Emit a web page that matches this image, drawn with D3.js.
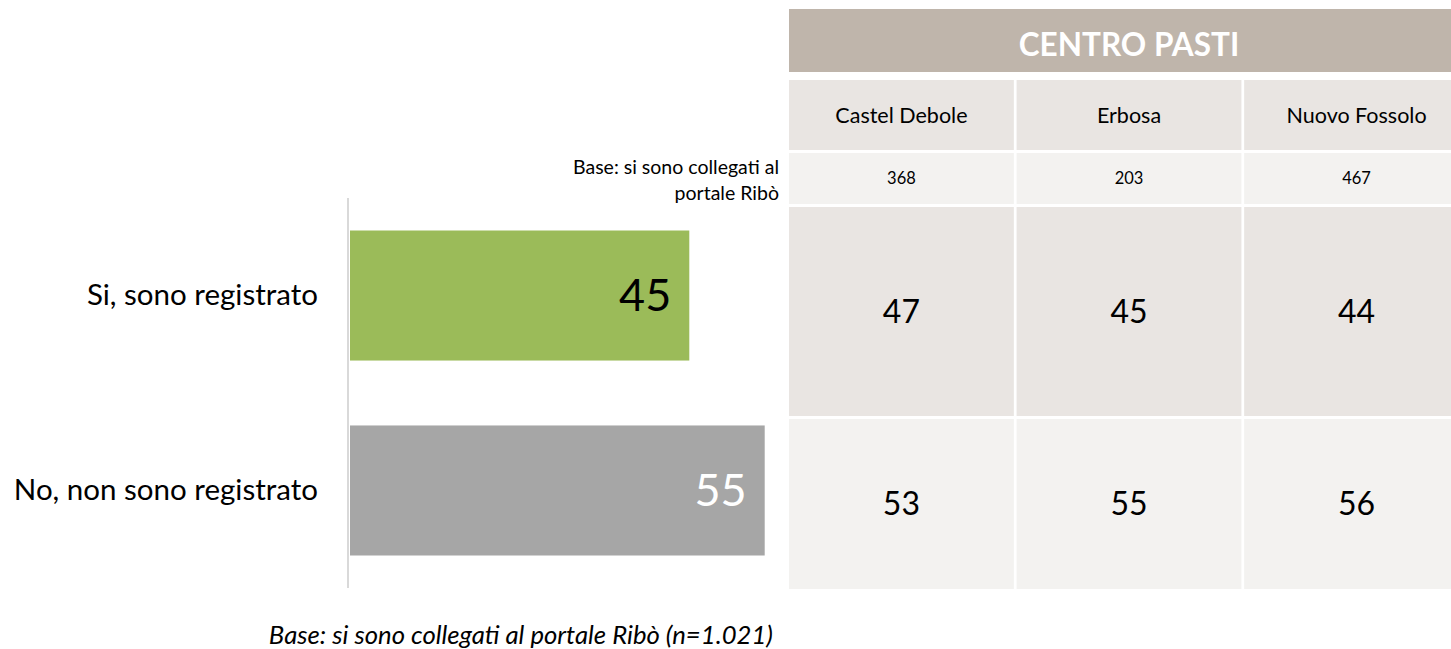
<!DOCTYPE html>
<html>
<head>
<meta charset="utf-8">
<script src="https://cdn.jsdelivr.net/npm/d3@7"></script>
<style>
  body { margin: 0; background: #fff; }
  svg { display: block; font-family: Lato, "Open Sans", sans-serif; }
</style>
</head>
<body>
<div id="chart"></div>
<script>
// total sample
const answers = ['Si, sono registrato', 'No, non sono registrato'];
const totals = [45, 55];
const barColors = ['#9bbb59', '#a6a6a6'];
const valueColors = ['#000000', '#ffffff'];

// breakdown by centro pasti
const tableTitle = 'CENTRO PASTI';
const centres = ['Castel Debole', 'Erbosa', 'Nuovo Fossolo'];
const bases = [368, 203, 467];
const registered = [47, 45, 44];
const notRegistered = [53, 55, 56];

const baseNote = ['Base: si sono collegati al', 'portale Ribò'];
const footNote = 'Base: si sono collegati al portale Ribò (n=1.021)';

const width = 1451, height = 649;

const svg = d3.select('#chart').append('svg')
    .attr('width', width)
    .attr('height', height);

// ---- bar chart on the left
var x = d3.scaleLinear().domain([0, 100]).range([350, 1104]);
var y = d3.scaleBand().domain(answers).range([198, 588])
    .paddingInner(0.333).paddingOuter(0.1667);

svg.selectAll('rect.bar')
    .data(totals)
    .enter().append('rect')
    .attr('class', 'bar')
    .attr('x', x(0))
    .attr('y', (d, i) => y(answers[i]))
    .attr('width', d => x(d) - x(0))
    .attr('height', y.bandwidth())
    .style('fill', (d, i) => barColors[i]);

svg.selectAll('text.value')
    .data(totals)
    .enter().append('text')
    .attr('class', 'value')
    .attr('x', d => x(d) - 18)
    .attr('y', (d, i) => y(answers[i]) + y.bandwidth() / 2)
    .attr('dy', '0.35em')
    .attr('text-anchor', 'end')
    .style('font-size', '45px')
    .style('fill', (d, i) => valueColors[i])
    .text(d => d);

// category axis: just the grey line and the labels
var yAxis = svg.append('g')
    .attr('transform', 'translate(348,0)')
    .call(d3.axisLeft(y).tickSize(0).tickPadding(30));
yAxis.select('.domain').attr('stroke', '#d9d9d9').attr('stroke-width', 2)
    .attr('d', 'M0,198V588');
yAxis.selectAll('.tick text')
    .style('font-size', '29.5px')
    .style('font-family', 'Lato, "Open Sans", sans-serif')
    .attr('fill', '#000');

// base note above the bars
svg.append('text')
    .attr('x', 779)
    .attr('y', 174)
    .attr('text-anchor', 'end')
    .style('font-size', '19.5px')
    .selectAll('tspan')
    .data(baseNote)
    .enter().append('tspan')
    .attr('x', 779)
    .attr('dy', (d, i) => i ? 26 : 0)
    .text(d => d);

// ---- table on the right
var col = d3.scaleBand().domain(centres).range([789, 1469]).paddingInner(0.012);

var rows = [
    {key: 'head', top: 80, bottom: 150, fill: '#e9e5e2', size: 21.5, values: centres},
    {key: 'base', top: 153, bottom: 204, fill: '#f3f2f0', size: 16.5, values: bases},
    {key: 'si', top: 207, bottom: 416, fill: '#e9e5e2', size: 32, values: registered},
    {key: 'no', top: 419, bottom: 589, fill: '#f3f2f0', size: 32, values: notRegistered}
];

svg.append('rect')
    .attr('x', col(centres[0]))
    .attr('y', 9)
    .attr('width', col.range()[1] - col(centres[0]))
    .attr('height', 63)
    .style('fill', '#bfb5ab');

svg.append('text')
    .attr('x', (col(centres[0]) + col.range()[1]) / 2)
    .attr('y', 45)
    .attr('dy', '0.35em')
    .attr('text-anchor', 'middle')
    .style('font-size', '31.5px')
    .style('font-weight', 'bold')
    .style('fill', '#fff')
    .text(tableTitle);

rows.forEach(function(r) {
    var g = svg.append('g').attr('class', 'row-' + r.key);
    g.selectAll('rect')
        .data(r.values)
        .enter().append('rect')
        .attr('x', (d, i) => col(centres[i]))
        .attr('y', r.top)
        .attr('width', col.bandwidth())
        .attr('height', r.bottom - r.top)
        .style('fill', r.fill);
    g.selectAll('text')
        .data(r.values)
        .enter().append('text')
        .attr('x', (d, i) => col(centres[i]) + col.bandwidth() / 2)
        .attr('y', (r.top + r.bottom) / 2)
        .attr('dy', '0.35em')
        .attr('text-anchor', 'middle')
        .style('font-size', r.size + 'px')
        .style('fill', '#000')
        .text(d => d);
});

// footnote
svg.append('text')
    .attr('x', 773)
    .attr('y', 644)
    .attr('text-anchor', 'end')
    .style('font-size', '25.7px')
    .style('font-style', 'italic')
    .text(footNote);
</script>
</body>
</html>
